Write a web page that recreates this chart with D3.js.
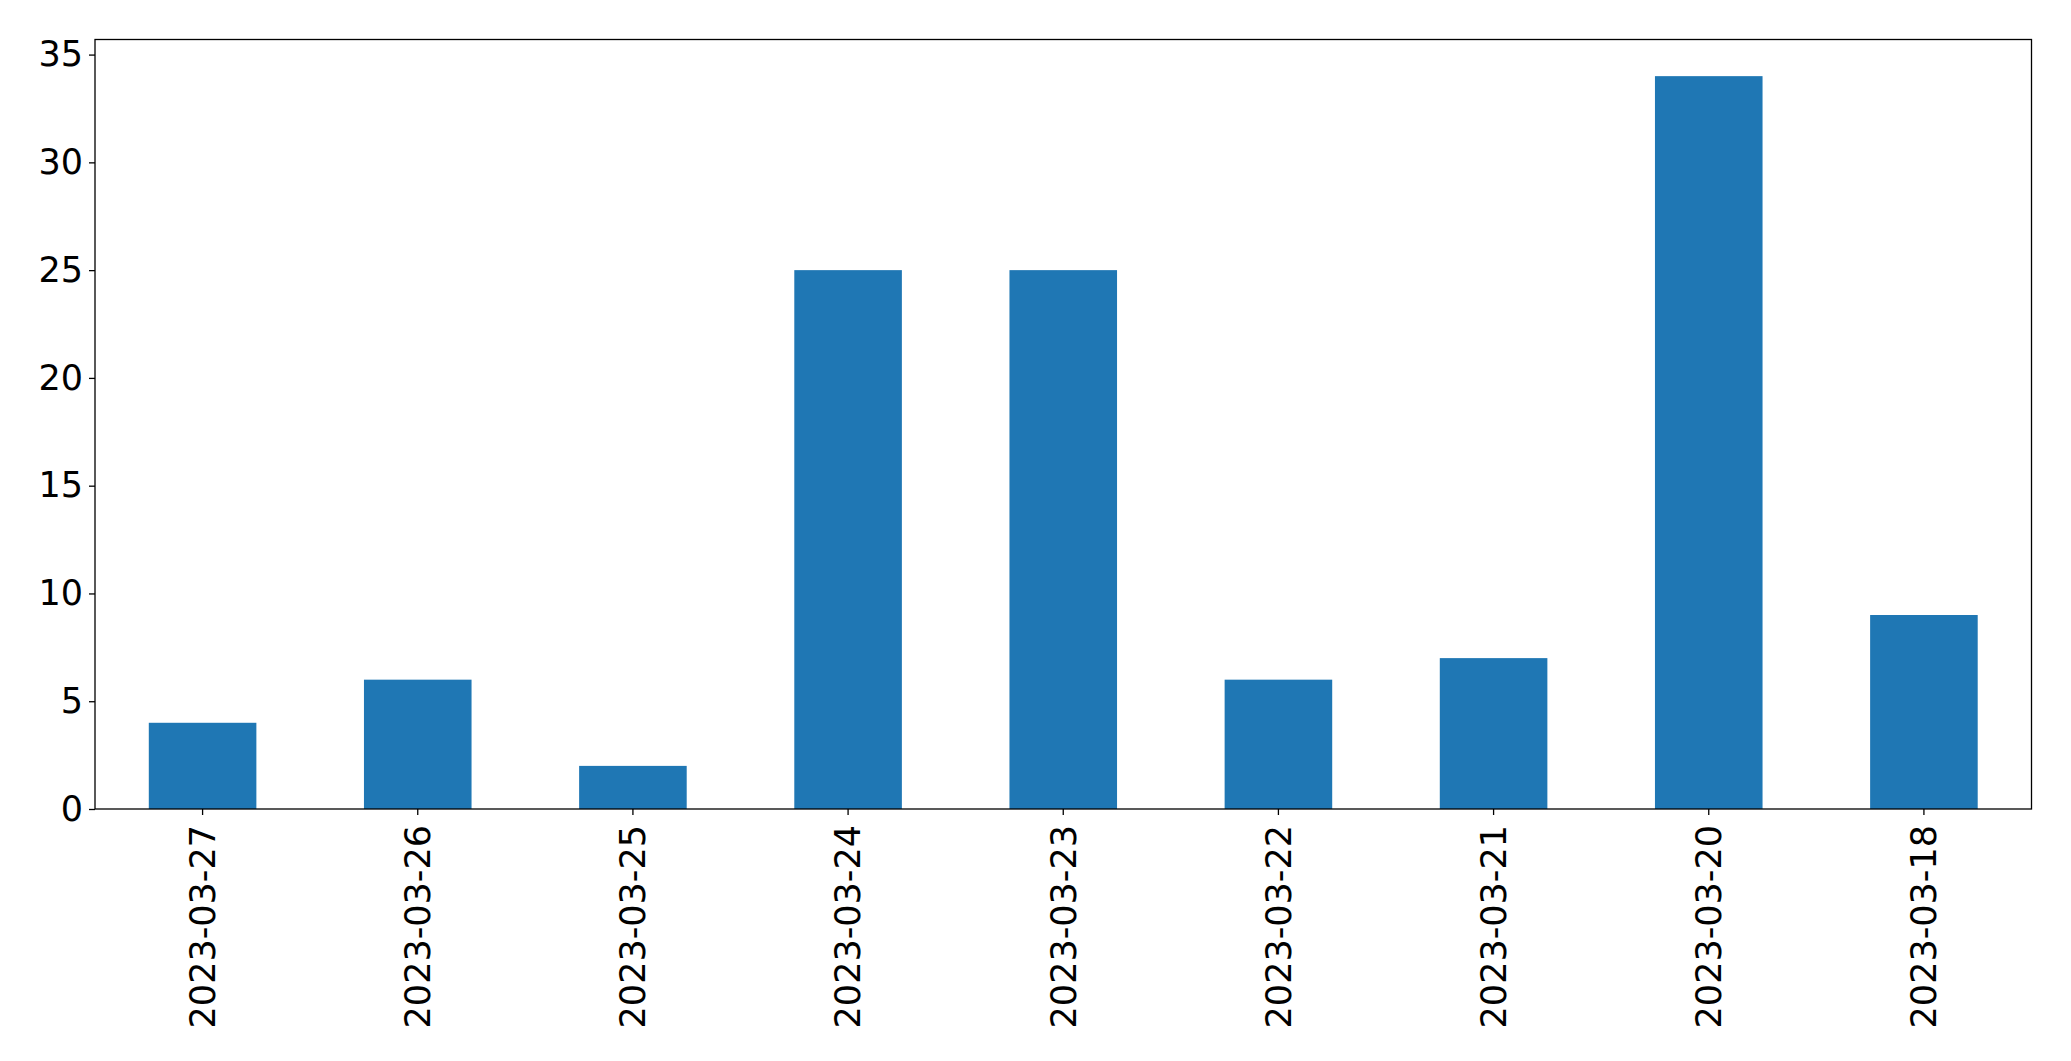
<!DOCTYPE html>
<html><head><meta charset="utf-8">
<script src="https://cdn.jsdelivr.net/npm/d3@7"></script>
<style>body{margin:0;background:#fff}svg{display:block}text{font-family:"DejaVu Sans";}</style>
</head><body>
<script>
const categories = ["2023-03-27","2023-03-26","2023-03-25","2023-03-24","2023-03-23","2023-03-22","2023-03-21","2023-03-20","2023-03-18"];
const values = [4,6,2,25,25,6,7,34,9];
const yTicks = [0,5,10,15,20,25,30,35];

const W = 2071, H = 1061;
const m = {left:95, right:2031.5, top:39.5, bottom:809};
const svg = d3.select("body").append("svg").attr("width",W).attr("height",H);

const x = d3.scaleBand().domain(categories).range([m.left,m.right]).paddingInner(0.5).paddingOuter(0.25);
const y = d3.scaleLinear().domain([0,35.7]).range([m.bottom,m.top]);

svg.append("g").selectAll("rect").data(values).join("rect")
  .attr("x",(d,i)=>x(categories[i])).attr("width",x.bandwidth())
  .attr("y",d=>y(d)).attr("height",d=>y(0)-y(d)).attr("fill","#1f77b4");

svg.append("rect").attr("x",m.left).attr("y",m.top).attr("width",m.right-m.left).attr("height",m.bottom-m.top)
  .attr("fill","none").attr("stroke","#000").attr("stroke-width",1.3);

const fs = 35;
const ya = svg.append("g").attr("transform",`translate(${m.left},0)`)
  .call(d3.axisLeft(y).tickValues(yTicks).tickSize(6).tickPadding(6).tickFormat(d3.format("d")));
ya.select(".domain").remove();
ya.selectAll("line").attr("stroke","#000").attr("stroke-width",1.3);
ya.selectAll("text").attr("font-size",fs).attr("fill","#000").attr("font-family","DejaVu Sans");

const xa = svg.append("g").attr("transform",`translate(0,${m.bottom})`)
  .call(d3.axisBottom(x).tickSize(6).tickSizeOuter(0));
xa.select(".domain").remove();
xa.selectAll("line").attr("stroke","#000").attr("stroke-width",1.3);
xa.selectAll("text").attr("font-size",fs).attr("fill","#000").attr("font-family","DejaVu Sans")
  .attr("transform","rotate(-90)").attr("text-anchor","end").attr("dy","0.35em").attr("x",-16).attr("y",0);
</script>
</body></html>
